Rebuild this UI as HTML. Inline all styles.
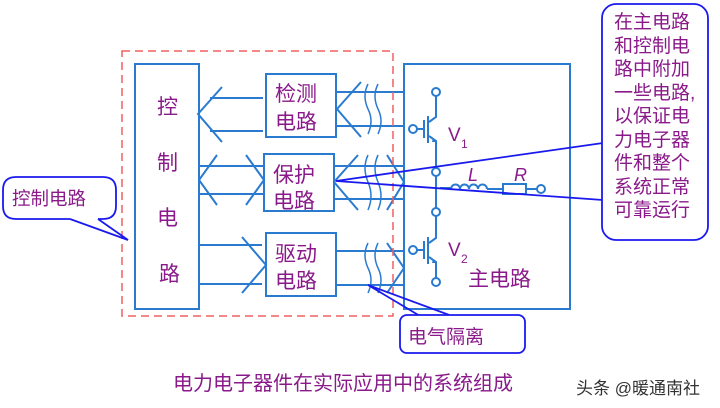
<!DOCTYPE html>
<html><head><meta charset="utf-8"><style>
body{margin:0;background:#fff}
svg{display:block}
text{font-family:"Liberation Sans","Noto Sans CJK SC",sans-serif;fill:#8a1a8a}
</style></head><body>
<svg width="720" height="408" viewBox="0 0 720 408" xmlns="http://www.w3.org/2000/svg">
<g fill="none" stroke="#2a7bd0" stroke-width="2">
<rect x="135" y="64" width="64" height="245"/>
<rect x="266" y="74" width="70" height="63"/>
<rect x="264" y="154" width="70" height="57"/>
<rect x="266" y="233" width="70" height="63"/>
<rect x="404" y="64" width="166" height="245"/>
<path d="M210 98H263M210 131H263M222 87L198 114L222 142"/>
<path d="M337 92H404M337 126H404M361 82L337 109L361 137"/>
<path d="M368 84q-6 12 0 25q6 12 0 25M378 84q-6 12 0 25q6 12 0 25" stroke-width="1.5"/>
<path d="M199 166H264M199 194H264M217 155L199 180L217 205M246 155L264 180L246 205"/>
<path d="M334 166H404M334 199H404M358 155L334 182L358 210M387 155L404 182L387 210"/>
<path d="M368 155q-6 13 0 27q6 14 0 28M378 155q-6 13 0 27q6 14 0 28" stroke-width="1.5"/>
<path d="M199 245H262M199 284H262M242 237L266 265L242 293"/>
<path d="M336 251H404M336 285H404M387 243L404 268L387 293"/>
<path d="M368 243q-6 12 0 25q6 12 0 25M378 243q-6 12 0 25q6 12 0 25" stroke-width="1.5"/>
<circle cx="436" cy="92" r="4"/>
<path d="M436 96V117L429 122M429 136L436 141V168"/>
<path d="M428 116V143M424 120V138"/>
<circle cx="413" cy="129" r="4"/><path d="M417 129H424"/>
<circle cx="436" cy="172" r="4"/>
<path d="M436 176V208"/>
<circle cx="436" cy="212" r="4"/>
<path d="M436 216V238L429 243M429 257L436 262V278"/>
<path d="M428 237V264M424 241V259"/>
<circle cx="413" cy="250" r="4"/><path d="M417 250H424"/>
<circle cx="436" cy="282" r="4"/>
<path d="M440 188H451"/>
<path d="M451 189a4.5 4.5 0 0 1 9 0a4.5 4.5 0 0 1 9 0a4.5 4.5 0 0 1 9 0a4.5 4.5 0 0 1 9 0"/>
<path d="M487 189H503M526 189H537"/>
<rect x="503" y="184" width="23" height="10"/>
<circle cx="541" cy="189" r="4"/>
</g>
<path d="M433 138l4 4l-5 0z" fill="#2a7bd0"/>
<path d="M433 259l4 4l-5 0z" fill="#2a7bd0"/>
<rect x="122" y="51" width="271" height="265" fill="none" stroke="#f06060" stroke-width="1.5" stroke-dasharray="8,5"/>
<g fill="none" stroke="#1a1aee" stroke-width="1.8">
<path d="M603 143L336 181L603 200"/>
<path d="M368 285L420 316M368 285L452 316"/>
<path d="M70 219L128 240L98 219"/>
<rect x="602" y="4" width="106" height="236" rx="14" fill="#fff"/>
<path d="M16 177h87q13 0 13 13v16q0 13-13 13h-5M70 219h-54q-13 0-13-13v-16q0-13 13-13" fill="#fff"/>
<rect x="400" y="315" width="125" height="38" rx="7" fill="#fff"/>
</g>
<g font-size="21">
<text x="157" y="114">控</text><text x="157" y="170">制</text><text x="157" y="225">电</text><text x="159" y="281">路</text>
<text x="275" y="101">检测</text><text x="275" y="129">电路</text>
<text x="273" y="182">保护</text><text x="273" y="208">电路</text>
<text x="275" y="261">驱动</text><text x="275" y="288">电路</text>
<text x="468" y="286">主电路</text>
</g>
<text x="448" y="141" font-size="19">V</text><text x="461" y="148" font-size="12">1</text>
<text x="448" y="256" font-size="19">V</text><text x="461" y="263" font-size="12">2</text>
<text x="468" y="181" font-size="18" font-style="italic">L</text>
<text x="514" y="181" font-size="18" font-style="italic">R</text>
<text x="12" y="205" font-size="18.5">控制电路</text>
<text x="408" y="343" font-size="19">电气隔离</text>
<g font-size="19">
<text x="614" y="28">在主电路</text><text x="614" y="52">和控制电</text><text x="614" y="75">路中附加</text>
<text x="614" y="99">一些电路,</text><text x="614" y="122">以保证电</text><text x="614" y="146">力电子器</text>
<text x="614" y="169">件和整个</text><text x="614" y="193">系统正常</text><text x="614" y="216">可靠运行</text>
</g>
<text x="173" y="390" font-size="20">电力电子器件在实际应用中的系统组成</text>
<text x="576" y="394" font-size="17" style="fill:#333">头条 @暖通南社</text>
</svg>
</body></html>
